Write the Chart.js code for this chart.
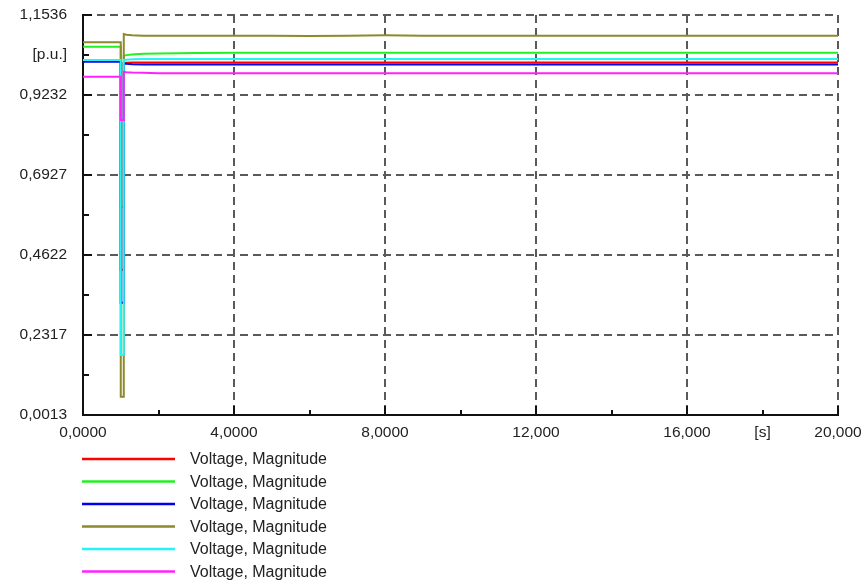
<!DOCTYPE html>
<html>
<head>
<meta charset="utf-8">
<script src="https://cdn.jsdelivr.net/npm/chart.js@4.4.1/dist/chart.umd.min.js"></script>
<style>
  html, body { margin: 0; padding: 0; background: #ffffff; }
  #wrap { position: relative; width: 861px; height: 584px; }
</style>
</head>
<body>
<div id="wrap"><canvas id="c" width="861" height="584"></canvas></div>
<script>
// ---- data ----
const time = [0, 1.0, 1.0, 1.08, 1.08, 1.15, 1.3, 1.6, 2.0, 3.0, 4.0, 5.0, 6.0, 7.0, 8.0, 9.0, 10.0, 11.0, 12.0, 13.0, 14.0, 15.0, 16.0, 17.0, 18.0, 19.0, 20.0];

const seriesRed     = [1.021, 1.021, 0.420, 0.420, 1.015, 1.016, 1.017, 1.017, 1.017, 1.017, 1.017, 1.017, 1.017, 1.017, 1.017, 1.017, 1.017, 1.017, 1.017, 1.017, 1.017, 1.017, 1.017, 1.017, 1.017, 1.017, 1.017];
const seriesGreen   = [1.062, 1.062, 0.600, 0.600, 1.036, 1.038, 1.040, 1.042, 1.043, 1.044, 1.045, 1.045, 1.045, 1.045, 1.045, 1.045, 1.045, 1.045, 1.045, 1.045, 1.045, 1.045, 1.045, 1.045, 1.045, 1.045, 1.045];
const seriesBlue    = [1.019, 1.019, 0.325, 0.325, 1.014, 1.013, 1.012, 1.011, 1.011, 1.011, 1.011, 1.011, 1.011, 1.011, 1.011, 1.011, 1.011, 1.011, 1.011, 1.011, 1.011, 1.011, 1.011, 1.011, 1.011, 1.011, 1.011];
const seriesOlive   = [1.075, 1.075, 0.054, 0.054, 1.099, 1.097, 1.095, 1.094, 1.094, 1.094, 1.094, 1.094, 1.093, 1.094, 1.095, 1.094, 1.094, 1.094, 1.094, 1.094, 1.094, 1.094, 1.094, 1.094, 1.094, 1.094, 1.094];
const seriesCyan    = [1.024, 1.024, 0.174, 0.174, 1.024, 1.025, 1.026, 1.027, 1.027, 1.027, 1.027, 1.027, 1.027, 1.027, 1.027, 1.027, 1.027, 1.027, 1.027, 1.027, 1.027, 1.027, 1.027, 1.027, 1.027, 1.027, 1.027];
const seriesMagenta = [0.976, 0.976, 0.851, 0.851, 0.990, 0.989, 0.988, 0.987, 0.986, 0.986, 0.986, 0.986, 0.986, 0.986, 0.986, 0.986, 0.986, 0.986, 0.986, 0.986, 0.986, 0.986, 0.986, 0.986, 0.986, 0.986, 0.986];

const seriesNames = ["Voltage, Magnitude", "Voltage, Magnitude", "Voltage, Magnitude", "Voltage, Magnitude", "Voltage, Magnitude", "Voltage, Magnitude"];

const yTickValues = [0.0013, 0.11655, 0.2317, 0.34695, 0.4622, 0.57745, 0.6927, 0.80795, 0.9232, 1.03835, 1.1536];
const yTickLabels = ["0,0013", "", "0,2317", "", "0,4622", "", "0,6927", "", "0,9232", "[p.u.]", "1,1536"];
const xTickValues = [0, 2, 4, 6, 8, 10, 12, 14, 16, 18, 20];
const xTickLabels = ["0,0000", "", "4,0000", "", "8,0000", "", "12,000", "", "16,000", "[s]", "20,000"];

// ---- styling ----
const colors = ["#ff0000", "#22f022", "#0000ee", "#8c8a2a", "#22f5f5", "#ff22ff"];
const drawOrder = [6, 5, 3, 4, 2, 1];
const FONT = "'Liberation Sans', Arial, sans-serif";
const TEXT = "#222222";

const allSeries = [seriesRed, seriesGreen, seriesBlue, seriesOlive, seriesCyan, seriesMagenta];
const datasets = allSeries.map((s, i) => ({
  label: seriesNames[i],
  data: time.map((t, k) => ({ x: t, y: s[k] })),
  borderColor: colors[i],
  backgroundColor: colors[i],
  borderWidth: 2,
  pointRadius: 0,
  tension: 0,
  order: drawOrder[i]
}));

const tickMarks = {
  id: 'tickMarks',
  afterDatasetsDraw(chart) {
    const ctx = chart.ctx;
    const xs = chart.scales.x, ys = chart.scales.y;
    const area = chart.chartArea;
    ctx.save();
    ctx.strokeStyle = "#111";
    ctx.lineWidth = 2;
    xTickValues.forEach((v, i) => {
      if (i === 0) return;
      const px = Math.round(xs.getPixelForValue(v));
      const len = (i % 2 === 0) ? 9 : 5;
      ctx.beginPath();
      ctx.moveTo(px, area.bottom);
      ctx.lineTo(px, area.bottom - len);
      ctx.stroke();
    });
    yTickValues.forEach((v, i) => {
      if (i === 0) return;
      const py = Math.round(ys.getPixelForValue(v));
      const len = (i % 2 === 0) ? 9 : 6;
      ctx.beginPath();
      ctx.moveTo(area.left, py);
      ctx.lineTo(area.left + len, py);
      ctx.stroke();
    });
    ctx.restore();
  }
};

const customLegend = {
  id: 'customLegend',
  afterDraw(chart) {
    const ctx = chart.ctx;
    ctx.save();
    ctx.font = "16px " + FONT;
    ctx.textBaseline = "middle";
    ctx.textAlign = "left";
    chart.data.datasets.forEach((ds, i) => {
      const y = 459 + i * 22.5;
      ctx.strokeStyle = ds.borderColor;
      ctx.lineWidth = 2.5;
      ctx.beginPath();
      ctx.moveTo(82, y);
      ctx.lineTo(175, y);
      ctx.stroke();
      ctx.fillStyle = TEXT;
      ctx.fillText(ds.label, 190, y + 1);
    });
    ctx.restore();
  }
};

new Chart(document.getElementById('c'), {
  type: 'line',
  data: { datasets },
  options: {
    responsive: false,
    animation: false,
    events: [],
    layout: { padding: { top: 15, right: 23, bottom: 139, left: 0 } },
    plugins: { legend: { display: false }, tooltip: { enabled: false } },
    scales: {
      x: {
        type: 'linear',
        min: 0, max: 20,
        afterBuildTicks: s => { s.ticks = xTickValues.map(v => ({ value: v })); },
        afterFit: s => { s.height = 30; s.paddingLeft = 0; s.paddingRight = 0; },
        ticks: {
          autoSkip: false,
          maxRotation: 0,
          padding: 8,
          color: TEXT,
          font: { size: 15.5, family: FONT },
          callback: (v, i) => xTickLabels[i]
        },
        grid: {
          drawTicks: false,
          lineWidth: 2,
          color: c => (c.index > 0 && c.index % 2 === 0) ? "#5a5a5a" : "rgba(0,0,0,0)"
        },
        border: { display: true, color: "#111", width: 2, dash: [8, 5] }
      },
      y: {
        type: 'linear',
        min: 0.0013, max: 1.1536,
        afterBuildTicks: s => { s.ticks = yTickValues.map(v => ({ value: v })); },
        afterFit: s => { s.width = 83; s.paddingTop = 0; s.paddingBottom = 0; },
        ticks: {
          autoSkip: false,
          padding: 16,
          color: TEXT,
          font: { size: 15.5, family: FONT },
          callback: (v, i) => yTickLabels[i]
        },
        grid: {
          drawTicks: false,
          lineWidth: 2,
          color: c => (c.index > 0 && c.index % 2 === 0) ? "#5a5a5a" : "rgba(0,0,0,0)"
        },
        border: { display: true, color: "#111", width: 2, dash: [8, 5] }
      }
    }
  },
  plugins: [tickMarks, customLegend]
});
</script>
</body>
</html>
